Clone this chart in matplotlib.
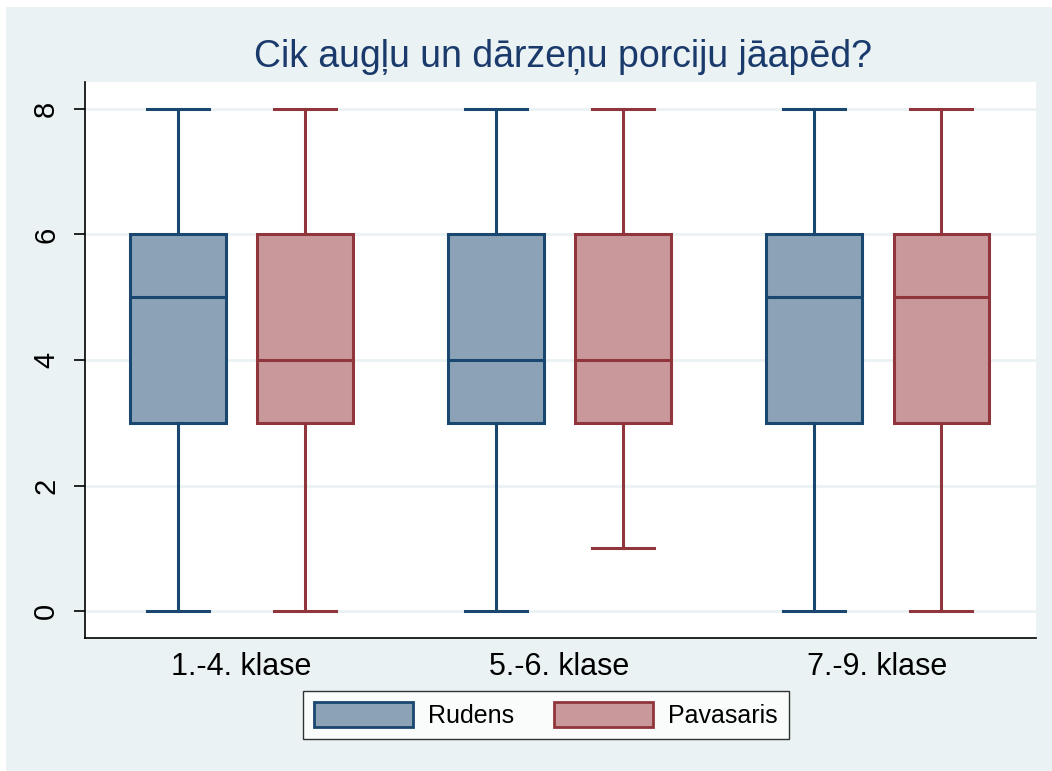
import matplotlib
matplotlib.use("Agg")
import matplotlib.pyplot as plt
from matplotlib.patches import Patch, Rectangle

plt.rcParams['font.family'] = ['Liberation Sans', 'DejaVu Sans']

# data: min, q1, median, q3, max
groups = ['1.-4. klase', '5.-6. klase', '7.-9. klase']
series = ['Rudens', 'Pavasaris']
rudens = [[0, 3, 5, 6, 8], [0, 3, 4, 6, 8], [0, 3, 5, 6, 8]]
pavasaris = [[0, 3, 4, 6, 8], [1, 3, 4, 6, 8], [0, 3, 5, 6, 8]]
yticks = [0, 2, 4, 6, 8]

edge_cols = ['#1a476f', '#90353b']
fill_cols = ['#8ca2b6', '#c8989b']
bg = '#eaf2f3'

fig = plt.figure(figsize=(10.52, 7.71), dpi=100)
fig.patches.append(Rectangle((6 / 1052, 0), 1 - 6 / 1052, 1 - 7 / 771,
                             transform=fig.transFigure, facecolor=bg,
                             edgecolor='none', zorder=-10))
ax = fig.add_axes([85 / 1052, 1 - 638 / 771, (1036 - 85) / 1052, (638 - 82) / 771])
ax.set_facecolor('white')

offset = 0.2
width = 0.3
for s, data in enumerate([rudens, pavasaris]):
    stats = []
    for vals in data:
        stats.append(dict(whislo=vals[0], q1=vals[1], med=vals[2], q3=vals[3],
                          whishi=vals[4], fliers=[]))
    pos = [i + (offset if s else -offset) for i in range(len(groups))]
    c = edge_cols[s]
    ax.bxp(stats, positions=pos, widths=width, patch_artist=True,
           showfliers=False, manage_ticks=False,
           boxprops=dict(facecolor=fill_cols[s], edgecolor=c, linewidth=2.2),
           medianprops=dict(color=c, linewidth=2.2),
           whiskerprops=dict(color=c, linewidth=2.2),
           capprops=dict(color=c, linewidth=2.2),
           capwidths=width * 0.65, zorder=3)

ax.set_xlim(-0.492, 2.498)
ax.set_ylim(-0.43, 8.43)
ax.set_xticks(range(len(groups)))
ax.set_xticklabels(groups, fontsize=22)
ax.tick_params(axis='x', length=0, pad=10)
ax.set_yticks(yticks)
ax.set_yticklabels([str(v) for v in yticks], fontsize=21, rotation=90, va='center')
ax.tick_params(axis='y', length=8, width=1.2, pad=10)
ax.yaxis.grid(True, color=bg, linewidth=2)
ax.set_axisbelow(True)
for sp in ['top', 'right']:
    ax.spines[sp].set_visible(False)
for sp in ['left', 'bottom']:
    ax.spines[sp].set_linewidth(1.2)

fig.text(563 / 1052, 1 - 57 / 771, 'Cik augļu un dārzeņu porciju jāapēd?',
         ha='center', va='center', fontsize=27, color='#1a3a6c')

handles = [Patch(facecolor=fill_cols[i], edgecolor=edge_cols[i], linewidth=2)
           for i in range(2)]
leg = fig.legend(handles, series, ncol=2, loc='center',
                 bbox_to_anchor=(546 / 1052, 1 - 715 / 771), fontsize=18,
                 handlelength=3.95, handleheight=1.15, handletextpad=0.6,
                 columnspacing=1.6, fancybox=False, borderpad=0.45,
                 borderaxespad=0)
leg.get_frame().set_edgecolor('black')
leg.get_frame().set_linewidth(1.0)

fig.savefig('out.png', dpi=100)
